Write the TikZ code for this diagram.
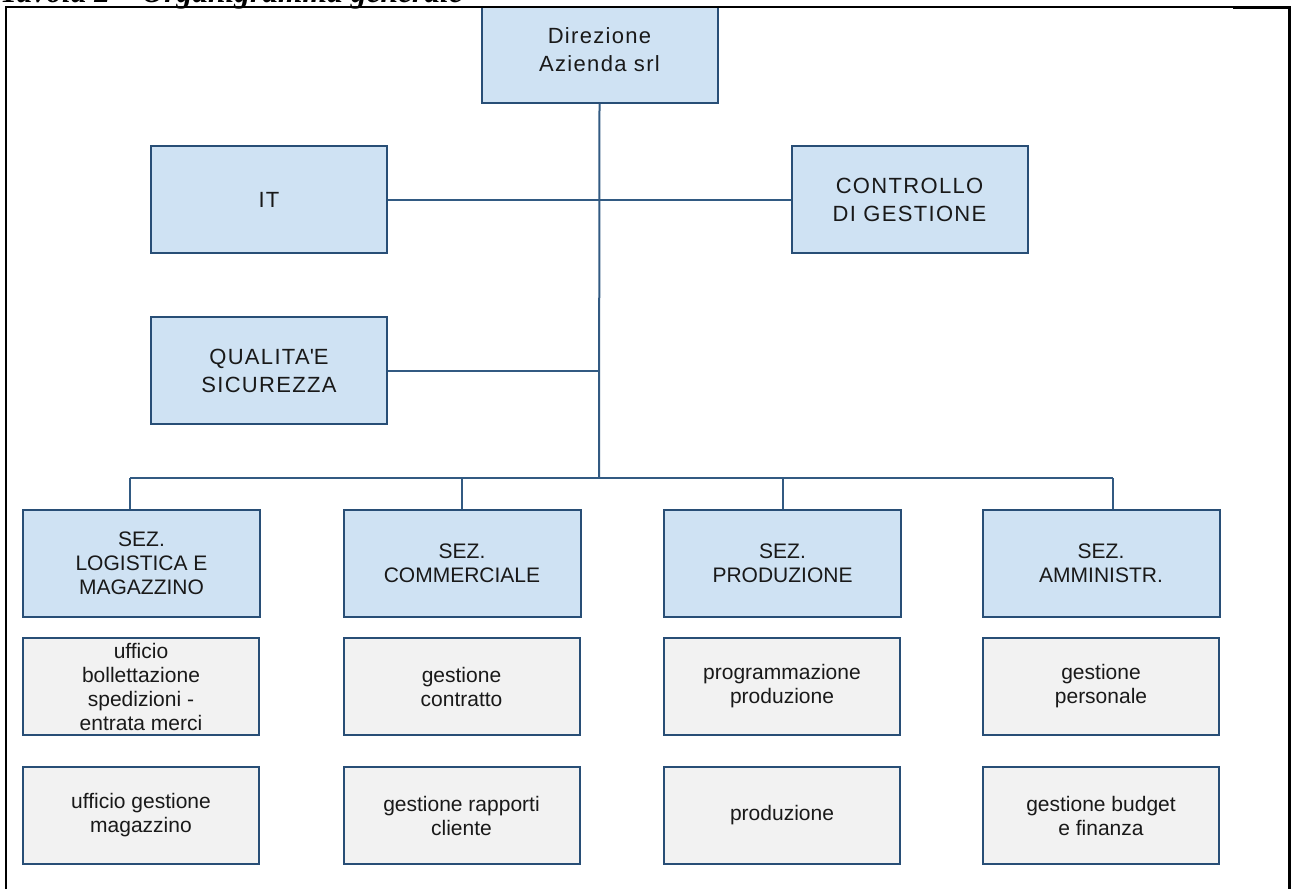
\documentclass[tikz,border=0pt]{standalone}
\usepackage{fontspec}
\setmainfont{Liberation Serif}
\setsansfont{Liberation Sans}
\definecolor{boxblue}{RGB}{207,226,243}
\definecolor{boxgrey}{RGB}{242,242,242}
\definecolor{edgeblue}{RGB}{40,78,118}
\definecolor{linkblue}{RGB}{50,90,130}
\tikzset{
	unit/.style={rectangle, draw=edgeblue, line width=2pt, inner sep=0pt, align=center, text=black!90},
	topunit/.style={unit, fill=boxblue, minimum width=236pt, minimum height=107pt, font=\sffamily\fontsize{22}{28}\selectfont\addfontfeature{LetterSpace=6}},
	secunit/.style={unit, fill=boxblue, minimum width=237pt, minimum height=107pt, font=\sffamily\fontsize{21}{24}\selectfont},
	office/.style={unit, fill=boxgrey, minimum width=236pt, minimum height=97pt, font=\sffamily\fontsize{21}{24}\selectfont},
	link/.style={draw=linkblue, line width=2pt}
}
\begin{document}
\begin{tikzpicture}[x=1pt,y=-1pt]
	\useasboundingbox (0,0) rectangle (1292,889);
	\clip (0,0) rectangle (1292,889);

	\node [topunit] (dir) at (599.5,49.5) {Direzione\\Azienda srl};
	\node [topunit] (it) at (269,199.5) {IT};
	\node [topunit] (ctrl) at (909.5,199.5) {CONTROLLO\\DI GESTIONE};
	\node [topunit] (qual) at (269,370.5) {QUALITA\textquotesingle E\\SICUREZZA};

	\node [secunit] (seclog) at (141.5,563.5) {SEZ.\\LOGISTICA E\\MAGAZZINO};
	\node [secunit] (seccom) at (462,563.5) {SEZ.\\COMMERCIALE};
	\node [secunit] (secprod) at (782.5,563.5) {SEZ.\\PRODUZIONE};
	\node [secunit] (secamm) at (1101,563.5) {SEZ.\\AMMINISTR.};

	\node [office] (log1) at (141,686.5) {ufficio\\bollettazione\\spedizioni -\\entrata merci};
	\node [office] (log2) at (141,815.5) {ufficio gestione\\magazzino};
	\node [office] (com1) at (461.5,686.5) {gestione\\contratto};
	\node [office] (com2) at (461.5,815.5) {gestione rapporti\\cliente};
	\node [office] (prod1) at (782,686.5) {programmazione\\produzione};
	\node [office] (prod2) at (782,815.5) {produzione};
	\node [office] (amm1) at (1101,686.5) {gestione\\personale};
	\node [office] (amm2) at (1101,815.5) {gestione budget\\e finanza};

	\coordinate (bus) at (599,478);
	\coordinate (busl) at (130,478);
	\coordinate (busr) at (1113,478);

	\draw [link] (dir.south) -- (bus);
	\draw [link] (it.east) -- (ctrl.west);
	\draw [link] (qual.east) -- (qual.east -| dir.south);
	\draw [link] (busl) -- (busr);
	\draw [link] (busl) -- (busl |- seclog.north);
	\draw [link] (seccom.north |- bus) -- (seccom.north);
	\draw [link] (secprod.north |- bus) -- (secprod.north);
	\draw [link] (busr) -- (busr |- secamm.north);

	\fill [white] (0,0) rectangle (1292,6);
	\node [anchor=base west, inner sep=0pt, font=\bfseries\itshape\fontsize{31.5}{36}\selectfont] (title) at (0,2) {Tavola 2 – Organigramma generale};
	\draw [line width=2pt] (6,889) -- (6,7) -- (1233,7);
	\draw [line width=3pt] (1233,7.5) -- (1289,7.5) -- (1289,889);
\end{tikzpicture}
\end{document}
